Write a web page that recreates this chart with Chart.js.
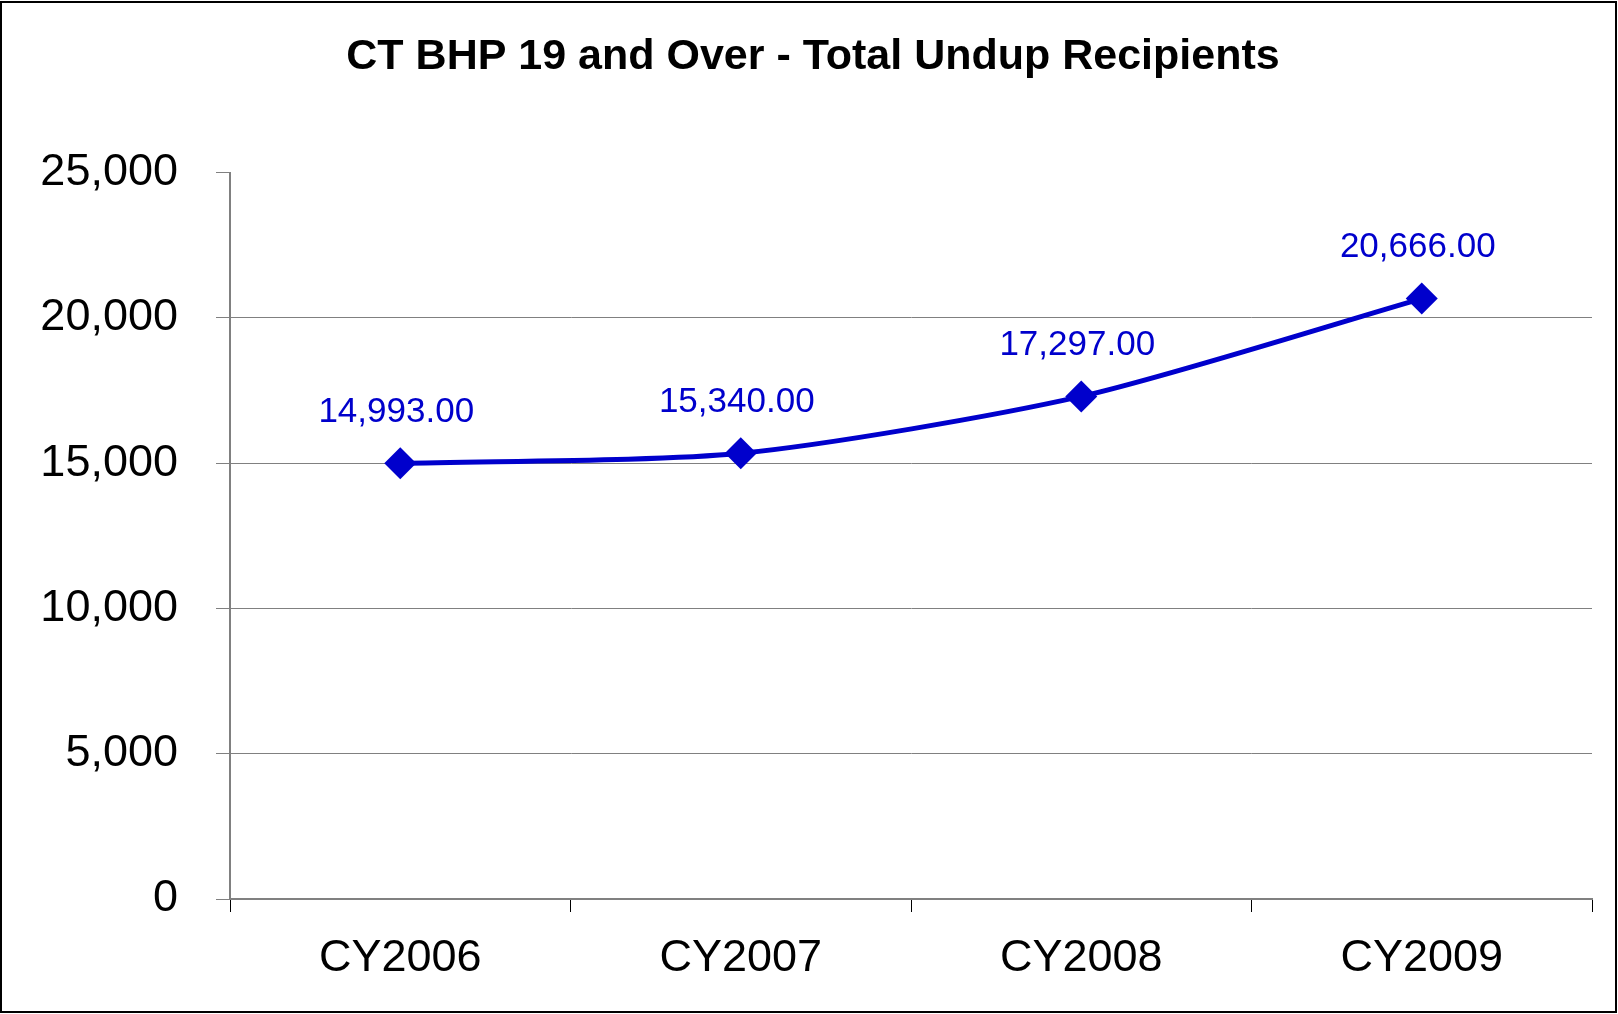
<!DOCTYPE html>
<html>
<head>
<meta charset="utf-8">
<title>CT BHP 19 and Over - Total Undup Recipients</title>
<script src="https://cdn.jsdelivr.net/npm/chart.js@4/dist/chart.umd.min.js"></script>
<style>
  html, body { margin: 0; padding: 0; background: #fff; }
  #wrap { position: absolute; left: 0; top: 0; width: 1618px; height: 1014px; }
  #frame { position: absolute; left: 0; top: 1px; width: 1617px; height: 1012px;
           box-sizing: border-box; border: 2px solid #000; pointer-events: none; }
</style>
</head>
<body>
<div id="wrap"><canvas id="myChart"></canvas></div>
<div id="frame"></div>
<script>
const years = ['CY2006', 'CY2007', 'CY2008', 'CY2009'];
const recipients = [14993, 15340, 17297, 20666];
const yTicks = [0, 5000, 10000, 15000, 20000, 25000];

const lineBlue = '#0000CC';
const gridGray = '#808080';
const fontFamily = '"Liberation Sans", Arial, sans-serif';

// value labels above each marker
const pointLabels = {
    id: 'pointLabels',
    afterDatasetsDraw(chart) {
        const c = chart.ctx;
        const meta = chart.getDatasetMeta(0);
        c.save();
        c.font = '35px ' + fontFamily;
        c.fillStyle = lineBlue;
        c.textAlign = 'center';
        c.textBaseline = 'middle';
        meta.data.forEach((pt, i) => {
            const txt = recipients[i].toLocaleString('en-US', { minimumFractionDigits: 2, maximumFractionDigits: 2 });
            c.fillText(txt, pt.x - 4, pt.y - 51);
        });
        c.restore();
    }
};

const ctx = document.getElementById('myChart');
const chart = new Chart(ctx, {
    type: 'line',
    data: {
        labels: years,
        datasets: [{
            label: 'Total Undup Recipients',
            data: recipients,
            borderColor: lineBlue,
            backgroundColor: lineBlue,
            borderWidth: 5,
            tension: 0.25,
            pointStyle: 'rectRot',
            pointRadius: 16,
            pointHoverRadius: 16,
            pointBorderWidth: 0
        }]
    },
    options: {
        responsive: true,
        maintainAspectRatio: false,
        animation: false,
        layout: {
            padding: { left: 8, right: 0, top: 0, bottom: 0 }
        },
        plugins: {
            legend: { display: false },
            tooltip: { enabled: false },
            title: {
                display: true,
                text: 'CT BHP 19 and Over - Total Undup Recipients',
                color: '#000',
                font: { family: fontFamily, size: 43, weight: 'bold' },
                padding: { top: 31, bottom: 90 }
            }
        },
        scales: {
            x: {
                offset: true,
                grid: {
                    offset: true,
                    drawOnChartArea: false,
                    tickLength: 13,
                    tickColor: '#000',
                    tickWidth: 1
                },
                border: { color: gridGray, width: 2 },
                ticks: {
                    color: '#000',
                    padding: 20,
                    font: { family: fontFamily, size: 45 }
                },
                afterFit(scale) { scale.height = 115; }
            },
            y: {
                min: 0,
                max: 25000,
                afterBuildTicks(scale) { scale.ticks = yTicks.map(v => ({ value: v })); },
                grid: {
                    color: c => (c.tick && c.tick.value === 25000) ? 'rgba(0,0,0,0)' : gridGray,
                    tickColor: gridGray,
                    tickLength: 14,
                    lineWidth: 1
                },
                border: { color: gridGray, width: 2 },
                ticks: {
                    color: '#000',
                    padding: 38,
                    font: { family: fontFamily, size: 45 },
                    callback: v => v.toLocaleString('en-US')
                },
                afterFit(scale) { scale.width = 222; }
            },
            // empty right margin so the title sits where it does in the original
            yRight: {
                position: 'right',
                grid: { display: false },
                border: { display: false },
                ticks: { display: false },
                afterFit(scale) { scale.width = 26; }
            }
        }
    },
    plugins: [pointLabels]
});
</script>
</body>
</html>
